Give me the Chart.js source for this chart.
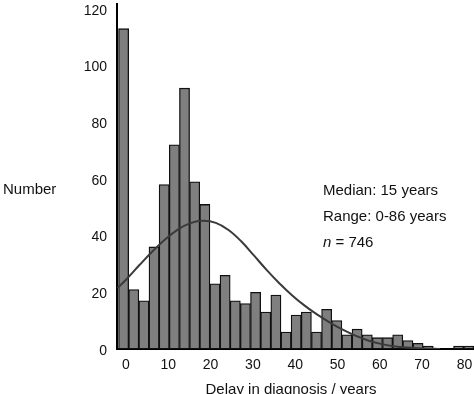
<!DOCTYPE html>
<html><head><meta charset="utf-8">
<script src="https://cdn.jsdelivr.net/npm/chart.js@4/dist/chart.umd.min.js"></script>
<style>html,body{margin:0;padding:0;background:#fff;} canvas{display:block;}</style>
</head><body>
<canvas id="c" width="474" height="394"></canvas>
<script>
// Histogram bins (centre of each bin, years) and counts
const binCenters = [-0.8, 1.6, 4.0, 6.4, 8.8, 11.2, 13.6, 16.0, 18.4, 20.8, 23.2, 25.6, 28.0, 30.4, 32.8, 35.2, 37.6, 40.0, 42.4, 44.8, 47.2, 49.6, 52.0, 54.4, 56.8, 59.2, 61.6, 64.0, 66.4, 68.8, 71.2, 73.6, 76.0, 78.4, 80.8];
const counts = [113, 21, 17, 36, 58, 72, 92, 59, 51, 23, 26, 17, 16, 20, 13, 19, 6, 12, 13, 6, 14, 10, 5, 7, 5, 4, 4, 5, 3, 2, 1, 0, 0, 1, 1];
// Fitted curve
const curveYears = [-2.3, 0, 3, 6, 9, 12, 15, 18, 21, 24, 27, 30, 33, 36, 39, 42, 45, 48, 51, 54, 57, 60, 63, 66, 70, 74];
const curveValues = [21.5, 24.8, 29.7, 34.4, 38.6, 42.1, 44.4, 45.2, 44.5, 42.0, 38.0, 33.0, 27.9, 23.2, 19.0, 15.3, 12.1, 9.3, 6.8, 4.7, 3.0, 1.8, 1.0, 0.5, 0.2, 0];
const xTicks = [0, 10, 20, 30, 40, 50, 60, 70, 80];
const yTicks = [0, 20, 40, 60, 80, 100, 120];
const yTitle = 'Number';
const xTitle = 'Delay in diagnosis / years';
const noteLines = ['Median: 15 years', 'Range: 0-86 years'];
const noteN = ['n', ' = 746'];

const FONT = '"Liberation Sans", Arial, Helvetica, sans-serif';

const textPlugin = {
  id: 'texts',
  afterDraw(chart) {
    const ctx = chart.ctx;
    ctx.save();
    ctx.fillStyle = '#111';
    ctx.textBaseline = 'alphabetic';
    ctx.textAlign = 'left';
    ctx.font = '15px ' + FONT;
    ctx.fillText(yTitle, 3, 194);
    ctx.fillText(noteLines[0], 323, 195);
    ctx.fillText(noteLines[1], 323, 221);
    ctx.font = 'italic 15px ' + FONT;
    ctx.fillText(noteN[0], 323, 247);
    const w = ctx.measureText(noteN[0]).width;
    ctx.font = '15px ' + FONT;
    ctx.fillText(noteN[1], 323 + w, 247);
    ctx.textAlign = 'center';
    ctx.fillText(xTitle, 291, 394);
    ctx.restore();
  }
};

new Chart(document.getElementById('c'), {
  type: 'bar',
  data: {
    datasets: [
      {
        type: 'line',
        data: curveYears.map((x, i) => ({x: x, y: curveValues[i]})),
        borderColor: '#3a3a3a',
        borderWidth: 2,
        pointRadius: 0,
        fill: false,
        tension: 0.4,
        order: 0
      },
      {
        type: 'bar',
        data: binCenters.map((x, i) => ({x: x, y: counts[i]})),
        backgroundColor: '#7f7f7f',
        borderColor: '#111',
        borderWidth: 1.3,
        borderSkipped: false,
        barPercentage: 1,
        categoryPercentage: 1,
        order: 1
      }
    ]
  },
  options: {
    responsive: false,
    animation: false,
    events: [],
    layout: {padding: {top: 4, right: 0, left: 0, bottom: 0}, autoPadding: false},
    plugins: {legend: {display: false}, tooltip: {enabled: false}},
    scales: {
      x: {
        type: 'linear',
        offset: false,
        min: -2.36,
        max: 82.03,
        grid: {display: false, drawTicks: false},
        border: {display: true, color: '#000', width: 2},
        ticks: {color: '#111', font: {size: 14, family: FONT}, padding: 8, maxRotation: 0, autoSkip: false, labelOffset: -1},
        afterBuildTicks: s => { s.ticks = xTicks.map(v => ({value: v})); },
        afterFit: s => { s.height = 45; s.paddingLeft = 0; s.paddingRight = 0; }
      },
      y: {
        min: 0,
        max: 121.7,
        grid: {display: false, drawTicks: false},
        border: {display: true, color: '#000', width: 2},
        ticks: {color: '#111', font: {size: 14, family: FONT}, padding: 10, labelOffset: 2},
        afterBuildTicks: s => { s.ticks = yTicks.map(v => ({value: v})); },
        afterFit: s => { s.width = 117; s.paddingTop = 0; s.paddingBottom = 0; }
      }
    }
  },
  plugins: [textPlugin]
});
</script>
</body></html>
